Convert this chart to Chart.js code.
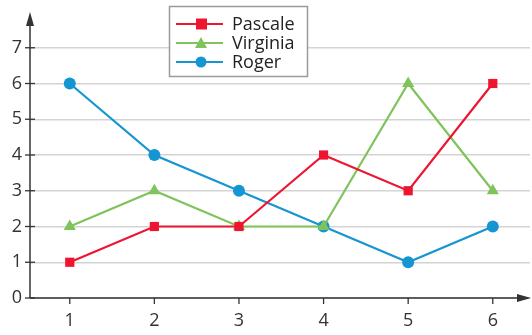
<!DOCTYPE html>
<html><head><meta charset="utf-8">
<script src="https://cdn.jsdelivr.net/npm/chart.js@4/dist/chart.umd.min.js"></script>
<style>html,body{margin:0;padding:0;background:#fff;overflow:hidden}#w{width:532px;height:335px}</style>
</head><body><div id="w"><canvas id="c"></canvas></div>
<script>
const categories = [1, 2, 3, 4, 5, 6];
const pascale = [1, 2, 2, 4, 3, 6];
const virginia = [2, 3, 2, 2, 6, 3];
const roger = [6, 4, 3, 2, 1, 2];
const yTicks = [0, 1, 2, 3, 4, 5, 6, 7];
const seriesNames = ['Pascale', 'Virginia', 'Roger'];

const RED = '#ee1530', GREEN = '#80c35a', BLUE = '#1596d2';
const FONT = "'Open Sans', sans-serif";
const AX = '#333';

function pts(vals){ return categories.map((x,i)=>({x:x,y:vals[i]})); }

const axesPlugin = {
  id:'axes',
  afterDraw(chart){
    const ctx = chart.ctx, xs = chart.scales.x, ys = chart.scales.y;
    const left = xs.left, bottom = ys.bottom, top = ys.top, right = xs.right + 1;
    ctx.save();
    ctx.strokeStyle = AX; ctx.fillStyle = AX; ctx.lineWidth = 1.5;
    ctx.beginPath(); ctx.moveTo(left, bottom); ctx.lineTo(left, top+8); ctx.stroke();
    ctx.beginPath(); ctx.moveTo(left, top); ctx.lineTo(left-4, top+14); ctx.lineTo(left+4, top+14); ctx.closePath(); ctx.fill();
    ctx.beginPath(); ctx.moveTo(left, bottom); ctx.lineTo(right-6, bottom); ctx.stroke();
    ctx.beginPath(); ctx.moveTo(right, bottom); ctx.lineTo(right-14, bottom-4); ctx.lineTo(right-14, bottom+4); ctx.closePath(); ctx.fill();
    ctx.lineWidth = 1.3;
    yTicks.forEach(v=>{ const y = ys.getPixelForValue(v); ctx.beginPath(); ctx.moveTo(left-5,y); ctx.lineTo(left+5,y); ctx.stroke(); });
    categories.forEach(v=>{ const x = xs.getPixelForValue(v); ctx.beginPath(); ctx.moveTo(x,bottom); ctx.lineTo(x,bottom+6); ctx.stroke(); });
    // legend
    const bx=169.5, by=6.5, bw=138, bh=70;
    ctx.fillStyle='#fff'; ctx.fillRect(bx,by,bw,bh);
    ctx.strokeStyle='#9a9a9a'; ctx.lineWidth=1.5; ctx.strokeRect(bx,by,bw,bh);
    const rows=[24,43,62];
    chart.data.datasets.forEach((ds,i)=>{
      const y=rows[i];
      ctx.strokeStyle=ds.borderColor; ctx.lineWidth=2.2;
      ctx.beginPath(); ctx.moveTo(176,y); ctx.lineTo(223,y); ctx.stroke();
      ctx.fillStyle=ds.borderColor;
      ctx.beginPath();
      if(ds.pointStyle==='rect'){ ctx.rect(196,y-5.5,11,11); }
      else if(ds.pointStyle==='triangle'){ ctx.moveTo(201,y-6); ctx.lineTo(207,y+5); ctx.lineTo(195,y+5); ctx.closePath(); }
      else { ctx.arc(201,y,5.5,0,Math.PI*2); }
      ctx.fill();
      ctx.fillStyle='#222'; ctx.font="18px "+FONT; ctx.textBaseline='middle'; ctx.textAlign='left';
      ctx.fillText(ds.label,232,y+1);
    });
    ctx.restore();
  }
};

new Chart(document.getElementById('c'),{
  type:'line',
  data:{datasets:[
    {label:seriesNames[0],data:pts(pascale),borderColor:RED,backgroundColor:RED,pointStyle:'rect',pointRadius:6.5,pointBorderWidth:0,borderWidth:2.2},
    {label:seriesNames[1],data:pts(virginia),borderColor:GREEN,backgroundColor:GREEN,pointStyle:'triangle',pointRadius:7,pointBorderWidth:0,borderWidth:2.2},
    {label:seriesNames[2],data:pts(roger),borderColor:BLUE,backgroundColor:BLUE,pointStyle:'circle',pointRadius:6,pointBorderWidth:0,borderWidth:2.2}
  ]},
  options:{
    responsive:true,maintainAspectRatio:false,animation:false,
    layout:{autoPadding:false,padding:{top:12,right:2,left:0,bottom:0}},
    plugins:{legend:{display:false},tooltip:{enabled:false}},
    scales:{
      x:{type:'linear',min:0.53,max:6.44,
        afterBuildTicks(s){ s.ticks = categories.map(v=>({value:v})); },
        afterFit(s){ s.height=37; s.paddingLeft=0; s.paddingRight=0; },
        grid:{display:false,drawTicks:false},border:{display:false},
        ticks:{padding:12,color:AX,font:{family:FONT,size:18}}},
      y:{min:0,max:8,
        afterBuildTicks(s){ s.ticks = yTicks.map(v=>({value:v})); },
        afterFit(s){ s.width=30; s.paddingTop=0; s.paddingBottom=0; },
        grid:{color:'#d4d4d4',lineWidth:1.5,drawTicks:false},border:{display:false},
        ticks:{padding:8,color:AX,font:{family:FONT,size:18}}}
    }
  },
  plugins:[axesPlugin]
});
</script></body></html>
